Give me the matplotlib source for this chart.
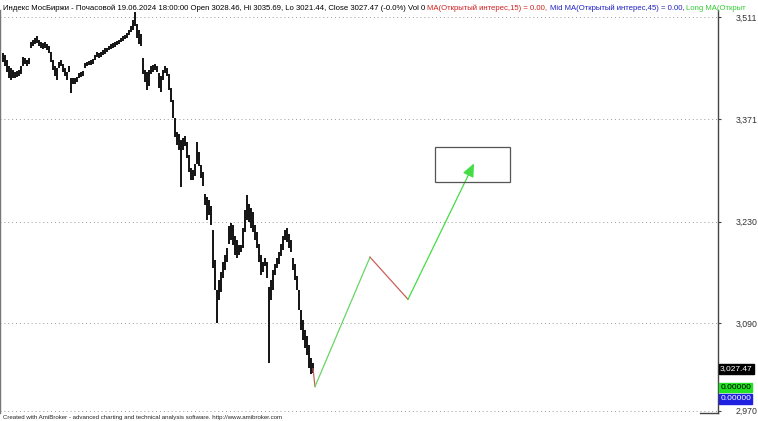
import matplotlib
matplotlib.use('Agg')
import matplotlib.pyplot as plt
from matplotlib.patches import Rectangle
from matplotlib.ticker import FuncFormatter, FixedLocator

plt.rcParams['font.family'] = ['Liberation Sans', 'DejaVu Sans']

# ---- data (hourly bars, MOEX index) ----
highs = [3462, 3459, 3452, 3444, 3441, 3438, 3436, 3437, 3438, 3444,
         3456, 3455, 3452, 3455, 3477, 3480, 3482, 3485, 3480, 3477,
         3476, 3477, 3474, 3471, 3463, 3452, 3444, 3441, 3449, 3452,
         3447, 3441, 3436, 3444, 3427, 3427, 3427, 3429, 3434, 3436,
         3437, 3448, 3449, 3451, 3452, 3454, 3459, 3463, 3462, 3463,
         3466, 3469, 3469, 3471, 3474, 3476, 3477, 3478, 3480, 3482,
         3485, 3487, 3489, 3493, 3499, 3507, 3518, 3502, 3493, 3488,
         3455, 3438, 3436, 3438, 3444, 3445, 3447, 3444, 3434, 3430,
         3438, 3444, 3441, 3433, 3414, 3397, 3372, 3353, 3350, 3342,
         3345, 3348, 3339, 3321, 3304, 3301, 3309, 3339, 3326, 3308,
         3298, 3268, 3264, 3260, 3251, 3218, 3177, 3136, 3150, 3161,
         3174, 3184, 3194, 3224, 3228, 3225, 3210, 3205, 3198, 3198,
         3221, 3246, 3266, 3254, 3249, 3243, 3225, 3216, 3199, 3184,
         3174, 3180, 3174, 3140, 3150, 3163, 3172, 3180, 3188, 3199,
         3210, 3218, 3221, 3213, 3205, 3180, 3172, 3155, 3136, 3108,
         3095, 3081, 3073, 3060, 3042, 3035.69]
lows = [3449, 3444, 3436, 3427, 3425, 3427, 3427, 3429, 3430, 3433,
        3444, 3447, 3444, 3447, 3469, 3471, 3474, 3476, 3471, 3469,
        3467, 3469, 3466, 3462, 3449, 3438, 3430, 3425, 3441, 3444,
        3436, 3430, 3425, 3436, 3407, 3419, 3419, 3422, 3427, 3429,
        3430, 3441, 3444, 3445, 3445, 3447, 3452, 3456, 3455, 3456,
        3459, 3460, 3463, 3466, 3467, 3469, 3470, 3473, 3474, 3477,
        3478, 3481, 3482, 3487, 3491, 3493, 3499, 3482, 3474, 3471,
        3433, 3422, 3411, 3416, 3433, 3436, 3438, 3436, 3414, 3408,
        3425, 3434, 3430, 3411, 3394, 3372, 3346, 3335, 3328, 3277,
        3328, 3334, 3317, 3298, 3287, 3287, 3293, 3309, 3306, 3290,
        3279, 3253, 3232, 3239, 3225, 3166, 3136, 3090, 3122, 3133,
        3152, 3163, 3174, 3199, 3205, 3198, 3184, 3180, 3184, 3188,
        3194, 3216, 3232, 3229, 3221, 3216, 3205, 3194, 3174, 3156,
        3161, 3169, 3152, 3035, 3122, 3136, 3156, 3166, 3172, 3183,
        3191, 3205, 3202, 3194, 3188, 3163, 3150, 3136, 3108, 3081,
        3067, 3056, 3046, 3029, 3020, 3021.44]

last_open, last_high, last_low, last_close = 3028.46, 3035.69, 3021.44, 3027.47
y_ticks = [2970, 3090, 3230, 3371, 3511]

# projected wave (bar index, price)
wave_x = [155, 156, 183.5, 202.5, 235.5]
wave_y = [3027.47, 3003, 3181, 3123, 3310]
wave_colors = ['#c8605a', '#66d666', '#c8605a', '#44dd44']
target_x = [216.2, 253.4]
target_y = [3284, 3333]

RED = '#d02020'
BLUE = '#2020c0'
GREEN = '#33cc33'

# ---- figure ----
fig = plt.figure(figsize=(7.58, 4.21), dpi=100)
fig.patch.set_facecolor('white')
ax = fig.add_axes([0.0, 1 - 412.5 / 421, 718 / 758, (412.5 - 10) / 421])
ax.set_xlim(-1.5, 357.5)
ax.set_ylim(2967.3, 3521.0)

# grid
for t in y_ticks:
    ax.axhline(t, color='#9a9a9a', lw=0.7, ls=(0, (1, 3)), zorder=0)

# bars
idx = list(range(len(highs)))
ax.vlines(idx, lows, highs, color='black', lw=1.3, zorder=3)

# projection lines
for i in range(len(wave_x) - 2):
    ax.plot(wave_x[i:i + 2], wave_y[i:i + 2], color=wave_colors[i], lw=0.9, zorder=4)
ax.annotate('', xy=(wave_x[-1], wave_y[-1]), xytext=(wave_x[-2], wave_y[-2]),
            arrowprops=dict(arrowstyle='-|>,head_length=0.8,head_width=0.35',
                            color=wave_colors[-1], lw=0.9, mutation_scale=10,
                            shrinkA=0, shrinkB=0), zorder=4)
ax.add_patch(Rectangle((target_x[0], target_y[0]), target_x[1] - target_x[0],
                       target_y[1] - target_y[0], fill=False, ec='#555555', lw=0.9, zorder=4))

# spines / ticks
for s in ['top', 'bottom']:
    ax.spines[s].set_visible(False)
ax.spines['left'].set_color('#777777')
ax.spines['left'].set_linewidth(1.0)
ax.spines['right'].set_color('#444444')
ax.spines['right'].set_linewidth(1.0)
ax.set_xticks([])
ax.yaxis.set_major_locator(FixedLocator(y_ticks))
ax.yaxis.set_major_formatter(FuncFormatter(lambda v, p: f'{v:,.0f}'))
ax.yaxis.tick_right()
ax.tick_params(axis='y', which='major', direction='out', length=2.5, width=0.8,
               color='#444444', labelsize=6.3, labelcolor='#333333', pad=10.5)
for lab in ax.get_yticklabels():
    lab.set_horizontalalignment('left')
ax.plot([0.975, 1.0], [0.0, 0.0], transform=ax.transAxes, color='#444444', lw=1.0, clip_on=False)

# right side value boxes
tr = ax.get_yaxis_transform()
ax.text(1.003, last_close, f'{last_close:,.2f}', transform=tr, ha='left', va='center',
        fontsize=6.0, color='white',
        bbox=dict(boxstyle='square,pad=0.18', fc='black', ec='black'), clip_on=False)
ax.text(1.003, 3001.5, '0.00000', transform=tr, ha='left', va='center', fontsize=6.0,
        color='black', bbox=dict(boxstyle='square,pad=0.15', fc='#22e022', ec='#22e022'), clip_on=False)
ax.text(1.003, 2986.0, '0.00000', transform=tr, ha='left', va='center', fontsize=6.0,
        color='white', bbox=dict(boxstyle='square,pad=0.15', fc='#2020e0', ec='#2020e0'), clip_on=False)

# title (multi-coloured; ends where the original is cut by the frame)
pieces = [
    ('Индекс МосБиржи - Почасовой 19.06.2024 18:00:00 Open 3028.46, Hi 3035.69, '
     'Lo 3021.44, Close 3027.47 (-0.0%) Vol 0 ', 'black'),
    ('MA(Открытый интерес,15) = 0.00, ', RED),
    ('Mid MA(Открытый интерес,45) = 0.00, ', BLUE),
    ('Long MA(Открыт', GREEN),
]
fs_title = 5.55
prev = fig.text(0.004, 1 - 9.5 / 421, pieces[0][0], color=pieces[0][1], fontsize=fs_title,
                ha='left', va='baseline')
for txt, col in pieces[1:]:
    prev = fig.add_artist(matplotlib.text.Annotation(
        txt, xy=(1, 0), xycoords=prev, ha='left', va='bottom', color=col, fontsize=fs_title))

fig.text(0.004, 1 - 419 / 421,
         'Created with AmiBroker - advanced charting and technical analysis software. http://www.amibroker.com',
         fontsize=4.4, color='#222222', ha='left', va='baseline')

fig.savefig('out.png', dpi=100, facecolor='white')
